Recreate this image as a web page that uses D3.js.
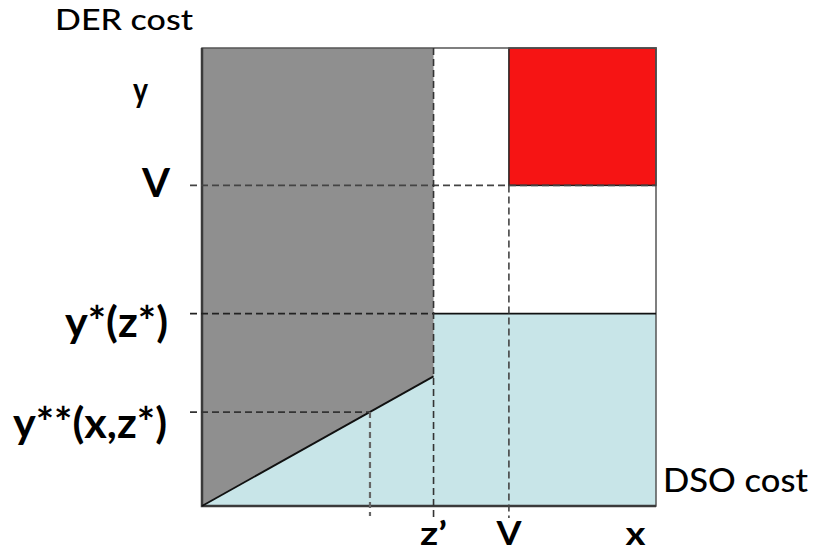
<!DOCTYPE html>
<html>
<head>
<meta charset="utf-8">
<script src="https://cdn.jsdelivr.net/npm/d3@7"></script>
<style>
html,body{margin:0;padding:0;background:#fff;}
svg{display:block;}
text{font-family:Lato,"Open Sans",sans-serif;fill:#000;}
</style>
</head>
<body>
<script>
// ---- data (abstract cost units, 0..100 on each axis) ----
const zPrime = 51;        // z'
const vX = 67.6;          // V on DSO cost axis
const xPoint = 37;        // x
const vY = 70;            // V on DER cost axis
const yStar = 42;         // y*(z*)
const yStarStar = 20.5;   // y**(x,z*)
const lineEnd = 28.3;     // boundary height at z'
const xTickLabels = ["z\u2019", "V", "x"];
const xTickValues = [zPrime, vX, 95.5];
const yTickLabels = ["y", "V", "y*(z*)", "y**(x,z*)"];
const yTickValues = [88.6, vY, yStar, yStarStar];
const axisTitles = ["DER cost", "DSO cost"];

const W = 813, H = 555;
const svg = d3.select("body").append("svg").attr("width", W).attr("height", H);
const x = d3.scaleLinear().domain([0, 100]).range([202, 656]);
const y = d3.scaleLinear().domain([0, 100]).range([506, 48]);
const line = d3.line().x(d => x(d[0])).y(d => y(d[1]));

// regions
svg.append("rect").attr("x", x(0)).attr("y", y(100)).attr("width", x(100) - x(0)).attr("height", y(0) - y(100)).attr("fill", "#fff");
svg.append("path").attr("d", line([[0, 0], [zPrime, lineEnd], [zPrime, yStar], [100, yStar], [100, 0]]) + "Z").attr("fill", "#c8e5e8");
svg.append("path").attr("d", line([[0, 100], [zPrime, 100], [zPrime, lineEnd], [0, 0]]) + "Z").attr("fill", "#8f8f8f");
svg.append("rect").attr("x", x(vX)).attr("y", y(100)).attr("width", x(100) - x(vX)).attr("height", y(vY) - y(100))
  .attr("fill", "#f61414").attr("stroke", "#222").attr("stroke-width", 1.5);

// outline
svg.append("rect").attr("x", x(0)).attr("y", y(100)).attr("width", x(100) - x(0)).attr("height", y(0) - y(100))
  .attr("fill", "none").attr("stroke", "#555").attr("stroke-width", 1.5);
svg.append("path").attr("d", line([[0, 100], [0, 0], [100, 0]])).attr("fill", "none").attr("stroke", "#3a3a3a").attr("stroke-width", 2.5);

// solid boundaries
svg.append("path").attr("d", line([[0, 0], [zPrime, lineEnd]])).attr("fill", "none").attr("stroke", "#111").attr("stroke-width", 1.8);
svg.append("path").attr("d", line([[zPrime, yStar], [100, yStar]])).attr("fill", "none").attr("stroke", "#111").attr("stroke-width", 1.8);

// dashed guides
const dash = (pts, col, w, da) => svg.append("path").attr("d", line(pts)).attr("fill", "none")
  .attr("stroke", col).attr("stroke-width", w).attr("stroke-dasharray", da);
const leftEdge = x.invert(190);
const belowEdge = y.invert(518);
dash([[leftEdge, vY], [100, vY]], "#444", 1.6, "7,4");
dash([[leftEdge, yStar], [zPrime, yStar]], "#222", 1.6, "7,4");
dash([[leftEdge, yStarStar], [xPoint, yStarStar]], "#333", 1.6, "7,4");
dash([[zPrime, 100], [zPrime, belowEdge]], "#333", 1.6, "7,4");
dash([[vX, vY], [vX, belowEdge]], "#444", 1.6, "7,4");
dash([[xPoint, yStarStar], [xPoint, y.invert(516)]], "#666", 2.2, "6,4");

// y labels
const yLab = [
  {r: 148, dy: 2, size: 34, w: 15, weight: 700},
  {r: 170, dy: 12, size: 40, w: 28, weight: 700},
  {r: 168, dy: 23, size: 42, w: 103, weight: 700},
  {r: 167, dy: 26, size: 42, w: 154, weight: 700}
];
yTickLabels.forEach((t, i) => {
  const s = yLab[i];
  svg.append("text").attr("x", s.r - s.w).attr("y", y(yTickValues[i]) + s.dy)
    .attr("font-size", s.size).attr("font-weight", s.weight)
    .attr("textLength", s.w).attr("lengthAdjust", "spacingAndGlyphs").text(t);
});
// x labels
const xLabW = [27, 25, 20];
xTickLabels.forEach((t, i) => {
  svg.append("text").attr("x", x(xTickValues[i]) - xLabW[i] / 2).attr("y", 545)
    .attr("font-size", 32).attr("font-weight", 700)
    .attr("textLength", xLabW[i]).attr("lengthAdjust", "spacingAndGlyphs").text(t);
});
// axis titles
svg.append("text").attr("x", 55).attr("y", 30).attr("font-size", 28).attr("font-weight", 500)
  .attr("textLength", 138).attr("lengthAdjust", "spacingAndGlyphs").text(axisTitles[0]);
svg.append("text").attr("x", 663).attr("y", 492).attr("font-size", 32).attr("font-weight", 500)
  .attr("textLength", 145).attr("lengthAdjust", "spacingAndGlyphs").text(axisTitles[1]);
</script>
</body>
</html>
